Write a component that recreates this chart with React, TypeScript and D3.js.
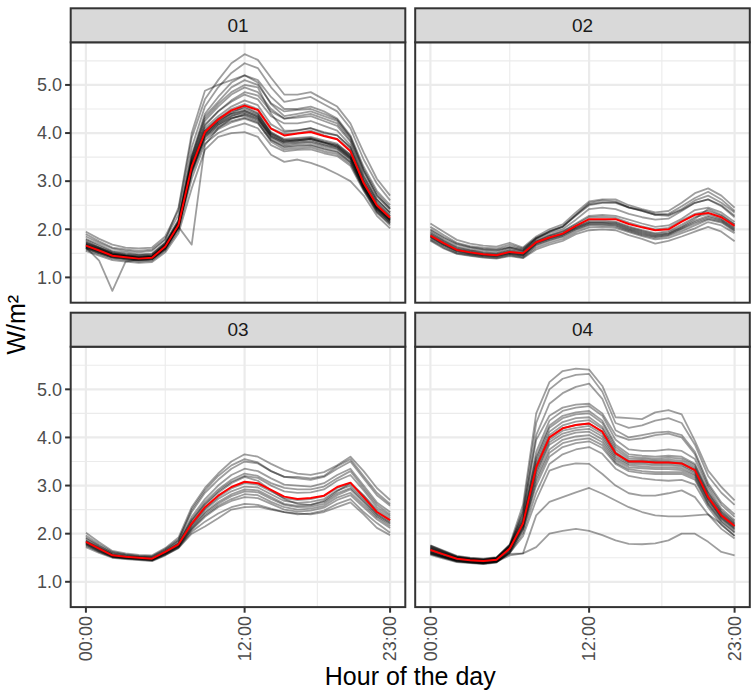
import React from 'react';
import * as d3 from 'd3';

// hours of the day on the x axis
const hours = [0, 1, 2, 3, 4, 5, 6, 7, 8, 9, 10, 11, 12, 13, 14, 15, 16, 17, 18, 19, 20, 21, 22, 23];
const xBreaks = [0, 12, 23];
const xLabels = ['00:00', '12:00', '23:00'];
const xMinor = [6, 17.5];
const yBreaks = [1, 2, 3, 4, 5];
const yLabels = ['1.0', '2.0', '3.0', '4.0', '5.0'];
const yMinor = [1.5, 2.5, 3.5, 4.5, 5.5];

const facets = ['01', '02', '03', '04'];

// facet 01
const lines01 = [
  [1.95, 1.80, 1.68, 1.62, 1.60, 1.62, 1.85, 2.40, 3.90, 4.70, 5.10, 5.45, 5.64, 5.52, 5.15, 4.80, 4.80, 4.85, 4.70, 4.55, 4.20, 3.60, 3.05, 2.70],
  [1.90, 1.75, 1.62, 1.58, 1.55, 1.58, 1.80, 2.30, 3.70, 4.55, 4.95, 5.25, 5.45, 5.35, 4.95, 4.65, 4.70, 4.75, 4.60, 4.45, 4.10, 3.45, 2.95, 2.60],
  [1.80, 1.68, 1.55, 1.52, 1.48, 1.50, 1.72, 2.20, 3.55, 4.40, 4.75, 5.05, 5.20, 5.10, 4.75, 4.50, 4.50, 4.55, 4.45, 4.30, 3.95, 3.30, 2.80, 2.50],
  [1.75, 1.62, 1.52, 1.48, 1.45, 1.47, 1.70, 2.15, 3.45, 4.25, 4.55, 4.80, 4.95, 4.85, 4.50, 4.30, 4.35, 4.40, 4.30, 4.20, 3.85, 3.20, 2.70, 2.42],
  [1.70, 1.60, 1.50, 1.46, 1.43, 1.45, 1.68, 2.12, 3.40, 4.15, 4.45, 4.65, 4.80, 4.70, 4.35, 4.20, 4.20, 4.25, 4.15, 4.05, 3.75, 3.10, 2.62, 2.35],
  [1.68, 1.58, 1.47, 1.44, 1.41, 1.43, 1.66, 2.10, 3.35, 4.05, 4.30, 4.50, 4.60, 4.50, 4.10, 3.98, 4.00, 4.05, 3.95, 3.88, 3.65, 3.00, 2.52, 2.27],
  [1.64, 1.54, 1.44, 1.41, 1.38, 1.40, 1.62, 2.07, 3.28, 3.98, 4.22, 4.40, 4.48, 4.38, 4.00, 3.88, 3.90, 3.92, 3.85, 3.78, 3.55, 2.92, 2.46, 2.20],
  [1.62, 1.52, 1.42, 1.39, 1.36, 1.38, 1.60, 2.05, 3.22, 3.92, 4.15, 4.30, 4.38, 4.28, 3.92, 3.80, 3.82, 3.85, 3.76, 3.70, 3.48, 2.88, 2.42, 2.16],
  [1.60, 1.50, 1.41, 1.38, 1.35, 1.37, 1.58, 2.02, 3.15, 3.85, 4.08, 4.22, 4.30, 4.20, 3.85, 3.72, 3.75, 3.76, 3.68, 3.62, 3.40, 2.84, 2.38, 2.12],
  [1.58, 1.48, 1.39, 1.36, 1.33, 1.35, 1.56, 1.98, 3.05, 3.78, 4.00, 4.12, 4.20, 4.10, 3.75, 3.62, 3.65, 3.66, 3.58, 3.52, 3.32, 2.80, 2.34, 2.08],
  [1.55, 1.45, 1.36, 1.33, 1.30, 1.32, 1.52, 1.92, 2.85, 3.65, 3.92, 4.00, 4.02, 3.92, 3.55, 3.40, 3.45, 3.38, 3.28, 3.15, 3.00, 2.70, 2.28, 2.02],
  [1.72, 1.62, 1.50, 1.45, 1.42, 1.44, 1.68, 2.15, 3.50, 4.30, 4.60, 4.85, 5.00, 4.95, 4.40, 4.05, 4.05, 4.10, 4.00, 3.95, 3.70, 3.05, 2.58, 2.32],
  [1.66, 1.56, 1.46, 1.43, 1.40, 1.42, 1.64, 2.08, 3.32, 4.00, 4.25, 4.42, 4.55, 4.42, 4.02, 3.85, 3.85, 3.88, 3.80, 3.75, 3.55, 2.95, 2.48, 2.22],
  [1.85, 1.72, 1.60, 1.55, 1.52, 1.55, 1.78, 2.45, 4.00, 4.88, 5.00, 5.10, 5.20, 5.05, 4.60, 4.35, 4.40, 4.45, 4.35, 4.25, 3.90, 3.25, 2.75, 2.45],
  [1.62, 1.35, 0.72, 1.33, 1.38, 1.40, 1.62, 2.05, 3.20, 3.95, 4.18, 4.35, 4.45, 4.35, 3.98, 3.85, 3.88, 3.90, 3.82, 3.75, 3.52, 2.92, 2.45, 2.20],
  [1.68, 1.58, 1.48, 1.44, 1.40, 1.42, 1.65, 2.05, 1.68, 3.75, 4.10, 4.30, 4.40, 4.30, 3.95, 3.82, 3.85, 3.88, 3.80, 3.72, 3.50, 2.92, 2.48, 2.22],
  [1.67, 1.57, 1.46, 1.43, 1.40, 1.42, 1.65, 2.10, 3.32, 4.05, 4.30, 4.45, 4.52, 4.40, 3.98, 3.82, 3.85, 3.88, 3.80, 3.72, 3.50, 2.90, 2.45, 2.20],
  [1.65, 1.55, 1.45, 1.42, 1.39, 1.41, 1.63, 2.08, 3.26, 4.00, 4.22, 4.36, 4.42, 4.32, 3.90, 3.75, 3.78, 3.80, 3.72, 3.66, 3.45, 2.86, 2.42, 2.18],
  [1.63, 1.53, 1.43, 1.40, 1.37, 1.39, 1.61, 2.06, 3.24, 3.95, 4.18, 4.32, 4.36, 4.25, 3.86, 3.70, 3.72, 3.74, 3.66, 3.60, 3.40, 2.85, 2.40, 2.15],
  [1.70, 1.59, 1.48, 1.44, 1.41, 1.43, 1.66, 2.12, 3.38, 4.10, 4.35, 4.55, 4.68, 4.58, 4.18, 4.02, 4.06, 4.10, 4.02, 3.95, 3.70, 3.02, 2.55, 2.28],
  [1.61, 1.51, 1.42, 1.39, 1.36, 1.38, 1.59, 2.03, 3.18, 3.90, 4.12, 4.25, 4.32, 4.22, 3.82, 3.66, 3.68, 3.70, 3.62, 3.56, 3.36, 2.82, 2.36, 2.12],
  [1.73, 1.61, 1.49, 1.45, 1.42, 1.44, 1.68, 2.14, 3.42, 4.18, 4.45, 4.68, 4.85, 4.78, 4.45, 4.30, 4.32, 4.35, 4.25, 4.15, 3.82, 3.12, 2.62, 2.35],
  [1.78, 1.65, 1.53, 1.49, 1.46, 1.48, 1.72, 2.18, 3.50, 4.35, 4.65, 4.95, 5.10, 5.00, 4.62, 4.45, 4.48, 4.50, 4.40, 4.28, 3.92, 3.22, 2.70, 2.42],
  [1.64, 1.54, 1.44, 1.41, 1.38, 1.40, 1.62, 2.06, 3.30, 4.02, 4.26, 4.40, 4.46, 4.34, 3.94, 3.78, 3.80, 3.82, 3.75, 3.68, 3.46, 2.88, 2.44, 2.18],
];
const mean01 = [1.66, 1.56, 1.45, 1.42, 1.39, 1.41, 1.64, 2.09, 3.30, 4.02, 4.28, 4.47, 4.57, 4.48, 4.09, 3.95, 3.99, 4.02, 3.94, 3.87, 3.62, 2.96, 2.50, 2.24];

// facet 02
const lines02 = [
  [2.12, 1.95, 1.78, 1.70, 1.66, 1.64, 1.72, 1.62, 1.85, 2.00, 2.10, 2.35, 2.58, 2.62, 2.62, 2.50, 2.42, 2.35, 2.38, 2.55, 2.75, 2.85, 2.70, 2.45],
  [2.05, 1.88, 1.72, 1.65, 1.62, 1.60, 1.68, 1.60, 1.82, 1.95, 2.05, 2.28, 2.50, 2.55, 2.55, 2.45, 2.38, 2.30, 2.32, 2.48, 2.65, 2.78, 2.62, 2.38],
  [1.98, 1.82, 1.68, 1.62, 1.58, 1.56, 1.62, 1.56, 1.80, 1.92, 2.00, 2.20, 2.42, 2.45, 2.42, 2.32, 2.25, 2.20, 2.22, 2.38, 2.55, 2.62, 2.50, 2.28],
  [1.92, 1.76, 1.62, 1.56, 1.52, 1.50, 1.58, 1.54, 1.76, 1.88, 1.96, 2.12, 2.28, 2.30, 2.28, 2.20, 2.12, 2.05, 2.08, 2.22, 2.40, 2.45, 2.35, 2.15],
  [1.88, 1.72, 1.58, 1.53, 1.49, 1.47, 1.54, 1.50, 1.74, 1.85, 1.92, 2.06, 2.18, 2.18, 2.16, 2.06, 1.98, 1.92, 1.96, 2.10, 2.25, 2.32, 2.22, 2.05],
  [1.84, 1.68, 1.55, 1.50, 1.46, 1.44, 1.50, 1.46, 1.70, 1.80, 1.88, 2.02, 2.12, 2.12, 2.10, 2.00, 1.92, 1.86, 1.90, 2.02, 2.15, 2.25, 2.18, 2.00],
  [1.80, 1.65, 1.52, 1.48, 1.44, 1.42, 1.48, 1.43, 1.66, 1.76, 1.84, 1.98, 2.08, 2.08, 2.06, 1.96, 1.88, 1.82, 1.86, 1.96, 2.08, 2.20, 2.14, 1.96],
  [1.78, 1.62, 1.50, 1.46, 1.42, 1.40, 1.46, 1.41, 1.62, 1.72, 1.80, 1.94, 2.04, 2.05, 2.03, 1.94, 1.86, 1.79, 1.82, 1.92, 2.02, 2.15, 2.08, 1.92],
  [1.76, 1.60, 1.49, 1.45, 1.41, 1.39, 1.44, 1.40, 1.58, 1.68, 1.76, 1.90, 1.98, 2.00, 1.98, 1.88, 1.80, 1.70, 1.76, 1.85, 1.95, 2.05, 1.95, 1.75],
  [1.95, 1.78, 1.64, 1.58, 1.55, 1.53, 1.62, 1.55, 1.80, 1.95, 2.05, 2.30, 2.55, 2.60, 2.58, 2.45, 2.40, 2.32, 2.30, 2.42, 2.60, 2.70, 2.55, 2.35],
  [1.86, 1.70, 1.57, 1.52, 1.48, 1.46, 1.52, 1.48, 1.72, 1.82, 1.90, 2.05, 2.15, 2.15, 2.14, 2.04, 1.96, 1.90, 1.93, 2.06, 2.22, 2.42, 2.30, 2.10],
  [1.85, 1.69, 1.56, 1.51, 1.47, 1.45, 1.51, 1.47, 1.71, 1.81, 1.89, 2.03, 2.14, 2.14, 2.12, 2.02, 1.94, 1.88, 1.91, 2.04, 2.18, 2.28, 2.20, 2.02],
  [1.83, 1.67, 1.54, 1.49, 1.45, 1.43, 1.49, 1.45, 1.68, 1.78, 1.86, 2.00, 2.10, 2.10, 2.08, 1.98, 1.90, 1.84, 1.88, 2.00, 2.12, 2.22, 2.16, 1.98],
  [1.90, 1.74, 1.60, 1.55, 1.51, 1.49, 1.56, 1.52, 1.75, 1.87, 1.95, 2.10, 2.25, 2.26, 2.24, 2.14, 2.06, 2.00, 2.03, 2.18, 2.32, 2.38, 2.28, 2.10],
  [2.00, 1.84, 1.70, 1.63, 1.59, 1.57, 1.64, 1.58, 1.82, 1.96, 2.06, 2.30, 2.52, 2.56, 2.56, 2.46, 2.38, 2.30, 2.28, 2.40, 2.55, 2.62, 2.48, 2.25],
];
const mean02 = [1.87, 1.71, 1.57, 1.52, 1.48, 1.46, 1.53, 1.50, 1.73, 1.83, 1.91, 2.07, 2.21, 2.21, 2.21, 2.11, 2.04, 1.98, 2.00, 2.16, 2.30, 2.34, 2.25, 2.07];

// facet 03
const lines03 = [
  [2.02, 1.82, 1.64, 1.59, 1.56, 1.55, 1.70, 1.92, 2.55, 2.95, 3.25, 3.50, 3.65, 3.60, 3.45, 3.32, 3.25, 3.22, 3.28, 3.42, 3.60, 3.30, 2.95, 2.70],
  [1.96, 1.78, 1.62, 1.57, 1.54, 1.53, 1.68, 1.88, 2.45, 2.85, 3.12, 3.35, 3.50, 3.46, 3.30, 3.18, 3.15, 3.12, 3.18, 3.35, 3.50, 3.15, 2.80, 2.58],
  [1.90, 1.74, 1.59, 1.55, 1.52, 1.51, 1.65, 1.84, 2.35, 2.72, 3.00, 3.22, 3.35, 3.30, 3.15, 3.02, 3.00, 2.98, 3.05, 3.22, 3.35, 3.00, 2.65, 2.45],
  [1.86, 1.71, 1.57, 1.53, 1.51, 1.49, 1.63, 1.80, 2.28, 2.62, 2.88, 3.08, 3.20, 3.16, 3.00, 2.88, 2.85, 2.86, 2.92, 3.10, 3.22, 2.90, 2.55, 2.36],
  [1.82, 1.68, 1.55, 1.51, 1.49, 1.47, 1.61, 1.77, 2.20, 2.52, 2.76, 2.94, 3.05, 3.02, 2.88, 2.74, 2.70, 2.72, 2.78, 2.95, 3.05, 2.78, 2.46, 2.28],
  [1.80, 1.66, 1.53, 1.50, 1.48, 1.46, 1.59, 1.75, 2.15, 2.45, 2.66, 2.82, 2.92, 2.90, 2.76, 2.62, 2.58, 2.60, 2.66, 2.84, 2.95, 2.68, 2.40, 2.22],
  [1.78, 1.64, 1.52, 1.49, 1.47, 1.45, 1.58, 1.73, 2.10, 2.38, 2.58, 2.72, 2.82, 2.80, 2.66, 2.55, 2.50, 2.52, 2.58, 2.75, 2.85, 2.60, 2.34, 2.16],
  [1.75, 1.62, 1.51, 1.48, 1.46, 1.44, 1.56, 1.71, 2.04, 2.25, 2.42, 2.55, 2.62, 2.60, 2.52, 2.45, 2.40, 2.42, 2.48, 2.62, 2.72, 2.45, 2.22, 2.02],
  [1.72, 1.60, 1.50, 1.47, 1.45, 1.43, 1.55, 1.70, 2.00, 2.15, 2.32, 2.50, 2.55, 2.56, 2.50, 2.45, 2.42, 2.40, 2.45, 2.55, 2.65, 2.40, 2.12, 1.97],
  [1.84, 1.70, 1.56, 1.52, 1.50, 1.48, 1.62, 1.79, 2.25, 2.60, 2.85, 3.05, 3.18, 3.10, 2.90, 2.72, 2.62, 2.60, 2.68, 2.88, 3.05, 2.80, 2.50, 2.32],
  [1.92, 1.75, 1.60, 1.56, 1.53, 1.52, 1.66, 1.86, 2.50, 2.90, 3.20, 3.42, 3.55, 3.48, 3.30, 3.18, 3.18, 3.15, 3.20, 3.40, 3.55, 3.20, 2.85, 2.62],
  [1.81, 1.67, 1.54, 1.51, 1.49, 1.47, 1.60, 1.76, 2.18, 2.50, 2.72, 2.88, 2.98, 2.96, 2.82, 2.68, 2.64, 2.66, 2.72, 2.90, 3.00, 2.72, 2.42, 2.25],
  [1.79, 1.65, 1.53, 1.50, 1.48, 1.46, 1.59, 1.74, 2.12, 2.42, 2.62, 2.78, 2.88, 2.86, 2.72, 2.60, 2.55, 2.56, 2.62, 2.80, 2.92, 2.65, 2.37, 2.20],
  [1.85, 1.70, 1.56, 1.52, 1.50, 1.48, 1.62, 1.80, 2.30, 2.66, 2.92, 3.12, 3.25, 3.20, 3.05, 2.95, 2.92, 2.92, 2.98, 3.15, 3.30, 2.95, 2.60, 2.40],
  [1.77, 1.63, 1.52, 1.49, 1.47, 1.45, 1.57, 1.72, 2.08, 2.35, 2.55, 2.68, 2.76, 2.74, 2.62, 2.50, 2.46, 2.48, 2.54, 2.70, 2.80, 2.55, 2.30, 2.12],
];
const mean03 = [1.83, 1.69, 1.55, 1.52, 1.50, 1.48, 1.62, 1.78, 2.21, 2.55, 2.79, 2.97, 3.08, 3.05, 2.91, 2.77, 2.72, 2.74, 2.79, 2.97, 3.06, 2.76, 2.45, 2.28];

// facet 04
const lines04 = [
  [1.72, 1.62, 1.52, 1.48, 1.46, 1.50, 1.78, 2.60, 4.50, 5.15, 5.38, 5.43, 5.41, 5.07, 4.42, 4.40, 4.38, 4.52, 4.57, 4.48, 3.93, 3.31, 2.97, 2.69],
  [1.70, 1.60, 1.50, 1.47, 1.45, 1.48, 1.75, 2.50, 4.30, 5.00, 5.22, 5.30, 5.32, 4.95, 4.30, 4.20, 4.25, 4.35, 4.40, 4.30, 3.85, 3.20, 2.85, 2.60],
  [1.68, 1.58, 1.49, 1.46, 1.44, 1.47, 1.72, 2.40, 4.05, 4.70, 4.92, 5.05, 5.12, 4.80, 4.15, 4.00, 4.05, 4.10, 4.12, 4.05, 3.70, 3.05, 2.65, 2.40],
  [1.74, 1.63, 1.52, 1.48, 1.46, 1.49, 1.76, 2.45, 3.95, 4.45, 4.62, 4.68, 4.70, 4.50, 4.05, 3.95, 3.98, 4.05, 4.08, 4.00, 3.65, 3.00, 2.60, 2.35],
  [1.75, 1.64, 1.53, 1.49, 1.47, 1.50, 1.74, 2.30, 3.60, 4.25, 4.45, 4.52, 4.55, 4.35, 3.85, 3.65, 3.62, 3.60, 3.62, 3.60, 3.45, 2.88, 2.48, 2.25],
  [1.70, 1.60, 1.50, 1.46, 1.44, 1.48, 1.71, 2.25, 3.48, 4.12, 4.32, 4.40, 4.42, 4.22, 3.75, 3.56, 3.55, 3.53, 3.54, 3.52, 3.38, 2.82, 2.43, 2.20],
  [1.66, 1.57, 1.48, 1.45, 1.43, 1.46, 1.69, 2.21, 3.38, 4.00, 4.19, 4.26, 4.29, 4.12, 3.67, 3.50, 3.50, 3.48, 3.48, 3.46, 3.32, 2.76, 2.38, 2.16],
  [1.63, 1.54, 1.46, 1.43, 1.41, 1.44, 1.67, 2.17, 3.28, 3.90, 4.08, 4.15, 4.18, 4.02, 3.60, 3.45, 3.44, 3.42, 3.42, 3.40, 3.26, 2.72, 2.34, 2.12],
  [1.60, 1.52, 1.44, 1.41, 1.39, 1.42, 1.64, 2.12, 3.15, 3.75, 3.95, 4.02, 4.05, 3.90, 3.52, 3.38, 3.36, 3.34, 3.34, 3.32, 3.20, 2.66, 2.30, 2.08],
  [1.58, 1.50, 1.42, 1.40, 1.38, 1.41, 1.62, 2.08, 3.00, 3.60, 3.80, 3.88, 3.92, 3.78, 3.45, 3.30, 3.26, 3.24, 3.24, 3.24, 3.12, 2.60, 2.24, 2.02],
  [1.56, 1.48, 1.41, 1.39, 1.37, 1.40, 1.60, 2.02, 2.85, 3.45, 3.65, 3.75, 3.80, 3.66, 3.35, 3.20, 3.15, 3.12, 3.10, 3.12, 3.02, 2.55, 2.18, 1.96],
  [1.60, 1.52, 1.44, 1.41, 1.39, 1.42, 1.60, 1.95, 2.70, 3.31, 3.41, 3.46, 3.45, 3.24, 3.00, 2.84, 2.79, 2.79, 2.84, 2.90, 2.76, 2.40, 2.10, 1.90],
  [1.62, 1.53, 1.45, 1.42, 1.40, 1.43, 1.58, 1.59, 2.38, 2.66, 2.76, 2.86, 2.95, 2.83, 2.69, 2.55, 2.45, 2.38, 2.36, 2.36, 2.38, 2.40, 2.20, 1.95],
  [1.58, 1.50, 1.43, 1.41, 1.39, 1.42, 1.55, 1.59, 1.72, 2.00, 2.06, 2.10, 2.06, 1.97, 1.86, 1.79, 1.78, 1.80, 1.86, 2.00, 2.00, 1.83, 1.62, 1.55],
  [1.68, 1.58, 1.49, 1.46, 1.44, 1.47, 1.70, 2.23, 3.42, 4.05, 4.25, 4.33, 4.36, 4.18, 3.70, 3.52, 3.52, 3.50, 3.50, 3.48, 3.35, 2.78, 2.40, 2.18],
  [1.64, 1.55, 1.47, 1.44, 1.42, 1.45, 1.68, 2.19, 3.33, 3.95, 4.14, 4.20, 4.24, 4.07, 3.64, 3.48, 3.47, 3.45, 3.45, 3.43, 3.29, 2.74, 2.36, 2.14],
  [1.72, 1.61, 1.51, 1.47, 1.45, 1.49, 1.73, 2.28, 3.55, 4.20, 4.40, 4.48, 4.50, 4.30, 3.80, 3.60, 3.58, 3.56, 3.58, 3.56, 3.42, 2.85, 2.45, 2.22],
  [1.62, 1.53, 1.45, 1.42, 1.40, 1.43, 1.66, 2.15, 3.22, 3.85, 4.02, 4.10, 4.12, 3.96, 3.56, 3.42, 3.40, 3.38, 3.38, 3.36, 3.23, 2.70, 2.32, 2.10],
  [1.76, 1.65, 1.54, 1.50, 1.48, 1.51, 1.76, 2.35, 3.70, 4.35, 4.55, 4.62, 4.65, 4.45, 3.95, 3.75, 3.72, 3.72, 3.75, 3.72, 3.55, 2.95, 2.52, 2.28],
  [1.59, 1.51, 1.43, 1.40, 1.38, 1.41, 1.62, 2.10, 3.08, 3.68, 3.88, 3.95, 3.98, 3.84, 3.48, 3.34, 3.30, 3.28, 3.28, 3.28, 3.16, 2.62, 2.26, 2.04],
];
const mean04 = [1.66, 1.57, 1.48, 1.45, 1.43, 1.46, 1.69, 2.21, 3.38, 4.00, 4.19, 4.26, 4.29, 4.12, 3.67, 3.50, 3.50, 3.48, 3.48, 3.46, 3.32, 2.76, 2.38, 2.16];

const allLines = [lines01, lines02, lines03, lines04];
const allMeans = [mean01, mean02, mean03, mean04];

const W = 754;
const H = 692;
const colX = [70.7, 415.2];
const rowY = [8.3, 312.7];
const panelW = 334.6;
const stripH = 34;
const panelH = 260.4;
const font = '"Liberation Sans", Arial, sans-serif';

export default function App() {
  const ext = d3.extent(allLines.flat(2)) as [number, number];
  const pad = (ext[1] - ext[0]) * 0.05;
  const y = d3.scaleLinear().domain([ext[0] - pad, ext[1] + pad]).range([panelH, 0]);
  const x = d3.scaleLinear().domain([-23 * 0.05, 23 * 1.05]).range([0, panelW]);
  const line = d3
    .line<number>()
    .x((_, i) => x(hours[i]))
    .y((d) => y(d));

  return (
    <svg width={W} height={H} style={{ position: 'absolute', left: 0, top: 0, background: '#fff' }} fontFamily={font}>
      {facets.map((id, k) => {
        const col = k % 2;
        const row = Math.floor(k / 2);
        const px = colX[col];
        const sy = rowY[row];
        const py = sy + stripH;
        return (
          <g key={id}>
            <g transform={`translate(${px},${py})`}>
              <rect width={panelW} height={panelH} fill="#fff" />
              {yMinor.map((v) => (
                <line key={'ym' + v} x1={0} x2={panelW} y1={y(v)} y2={y(v)} stroke="#EBEBEB" strokeWidth={1.1} />
              ))}
              {xMinor.map((v) => (
                <line key={'xm' + v} y1={0} y2={panelH} x1={x(v)} x2={x(v)} stroke="#EBEBEB" strokeWidth={1.1} />
              ))}
              {yBreaks.map((v) => (
                <line key={'yM' + v} x1={0} x2={panelW} y1={y(v)} y2={y(v)} stroke="#EBEBEB" strokeWidth={2.2} />
              ))}
              {xBreaks.map((v) => (
                <line key={'xM' + v} y1={0} y2={panelH} x1={x(v)} x2={x(v)} stroke="#EBEBEB" strokeWidth={2.2} />
              ))}
              {allLines[k].map((s, i) => (
                <path key={i} d={line(s) || ''} fill="none" stroke="#000" strokeOpacity={0.38} strokeWidth={1.8} strokeLinejoin="round" />
              ))}
              <path d={line(allMeans[k]) || ''} fill="none" stroke="#FF0000" strokeWidth={2} strokeLinejoin="round" />
              <rect width={panelW} height={panelH} fill="none" stroke="#333333" strokeWidth={2} />
            </g>
            <rect x={px} y={sy} width={panelW} height={stripH} fill="#D9D9D9" stroke="#333333" strokeWidth={2} />
            <text x={px + panelW / 2} y={sy + stripH / 2} dy="0.35em" textAnchor="middle" fontSize={19} fill="#1A1A1A">
              {id}
            </text>
            {col === 0 &&
              yBreaks.map((v, i) => (
                <g key={'yt' + v} transform={`translate(${px},${py + y(v)})`}>
                  <line x1={-5.6} x2={0} stroke="#333333" strokeWidth={2} />
                  <text x={-8.6} dy="0.35em" textAnchor="end" fontSize={18} fill="#4D4D4D">
                    {yLabels[i]}
                  </text>
                </g>
              ))}
            {row === 1 &&
              xBreaks.map((v, i) => (
                <g key={'xt' + v} transform={`translate(${px + x(v)},${py + panelH})`}>
                  <line y1={0} y2={5.6} stroke="#333333" strokeWidth={2} />
                  <text transform="translate(0,9) rotate(-90)" dy="0.35em" textAnchor="end" fontSize={18} fill="#4D4D4D">
                    {xLabels[i]}
                  </text>
                </g>
              ))}
          </g>
        );
      })}
      <text x={(colX[0] + colX[1] + panelW) / 2} y={685} textAnchor="middle" fontSize={25} fill="#000">
        Hour of the day
      </text>
      <text transform={`translate(25,${(rowY[0] + stripH + rowY[1] + stripH + panelH) / 2}) rotate(-90)`} textAnchor="middle" fontSize={25} fill="#000">
        W/m²
      </text>
    </svg>
  );
}
